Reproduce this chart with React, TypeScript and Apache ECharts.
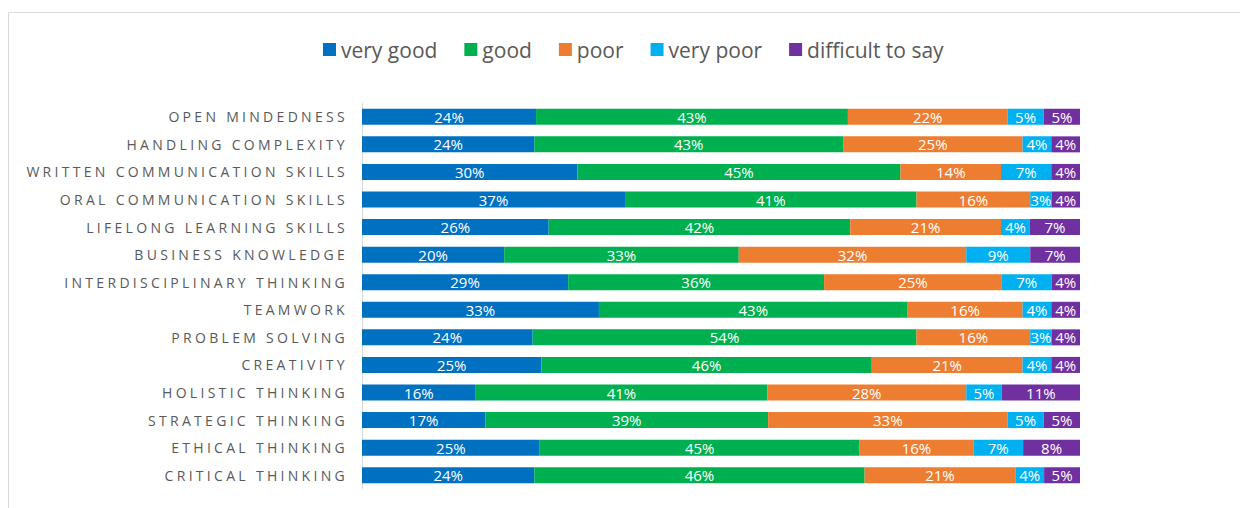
import React, { useEffect, useRef } from "react";
import * as echarts from "echarts";

const categories = [
  "OPEN MINDEDNESS",
  "HANDLING COMPLEXITY",
  "WRITTEN COMMUNICATION SKILLS",
  "ORAL COMMUNICATION SKILLS",
  "LIFELONG LEARNING SKILLS",
  "BUSINESS KNOWLEDGE",
  "INTERDISCIPLINARY THINKING",
  "TEAMWORK",
  "PROBLEM SOLVING",
  "CREATIVITY",
  "HOLISTIC THINKING",
  "STRATEGIC THINKING",
  "ETHICAL THINKING",
  "CRITICAL THINKING",
];

const veryGood = [24, 24, 30, 37, 26, 20, 29, 33, 24, 25, 16, 17, 25, 24];
const good = [43, 43, 45, 41, 42, 33, 36, 43, 54, 46, 41, 39, 45, 46];
const poor = [22, 25, 14, 16, 21, 32, 25, 16, 16, 21, 28, 33, 16, 21];
const veryPoor = [5, 4, 7, 3, 4, 9, 7, 4, 3, 4, 5, 5, 7, 4];
const difficult = [5, 4, 4, 4, 7, 7, 4, 4, 4, 4, 11, 5, 8, 5];

const seriesNames = ["very good", "good", "poor", "very poor", "difficult to say"];
const seriesValues = [veryGood, good, poor, veryPoor, difficult];
const colors = ["#0070C0", "#00B050", "#ED7D31", "#00B0F0", "#7030A0"];

const FONT = "'Open Sans', 'Noto Sans', sans-serif";

export default function App() {
  const ref = useRef<HTMLDivElement>(null);

  useEffect(() => {
    if (!ref.current) return;
    const chart = echarts.init(ref.current, null, { renderer: "svg" });
    const totals = categories.map((_, i) =>
      seriesValues.reduce((s, arr) => s + arr[i], 0)
    );

    const option: any = {
      animation: false,
      backgroundColor: "#ffffff",
      graphic: [
        {
          type: "rect",
          shape: { x: 8.5, y: 12.5, width: 1400, height: 700 },
          style: { fill: "none", stroke: "#d9d9d9", lineWidth: 1 },
          silent: true,
        },
      ],
      legend: {
        left: 318,
        top: 34,
        itemWidth: 13,
        itemHeight: 13,
        itemGap: 27,
        icon: "rect",
        textStyle: { fontSize: 21, color: "#595959", fontFamily: FONT },
        data: seriesNames,
      },
      grid: { left: 362, right: 160, top: 103, bottom: 19, containLabel: false },
      xAxis: {
        type: "value",
        min: 0,
        max: 100,
        show: false,
        splitLine: { show: false },
      },
      yAxis: {
        type: "category",
        inverse: true,
        data: categories,
        axisTick: { show: false },
        axisLine: { show: true, lineStyle: { color: "#d9d9d9", width: 1 } },
        axisLabel: {
          color: "#595959",
          fontSize: 14,
          fontFamily: FONT,
          margin: 14,
        },
      },
      series: seriesNames.map((name, si) => ({
        name,
        type: "bar",
        stack: "total",
        barWidth: 16,
        itemStyle: { color: colors[si] },
        label: {
          show: true,
          position: "inside",
          color: "#ffffff",
          fontSize: 15,
          fontFamily: FONT,
          formatter: (p: any) => seriesValues[si][p.dataIndex] + "%",
        },
        data: seriesValues[si].map((v, i) => (v / totals[i]) * 100),
      })),
    };

    chart.setOption(option);

    const applySpacing = () => {
      const el = ref.current;
      if (!el) return;
      el.querySelectorAll("text").forEach((t) => {
        const s = (t.textContent || "").trim();
        if (categories.includes(s)) {
          (t as SVGTextElement).style.letterSpacing = "3.3px";
        }
      });
    };
    applySpacing();
    chart.on("finished", applySpacing);

    return () => {
      chart.dispose();
    };
  }, []);

  return (
    <div
      ref={ref}
      style={{ position: "fixed", left: 0, top: 0, width: 1240, height: 508 }}
    />
  );
}
